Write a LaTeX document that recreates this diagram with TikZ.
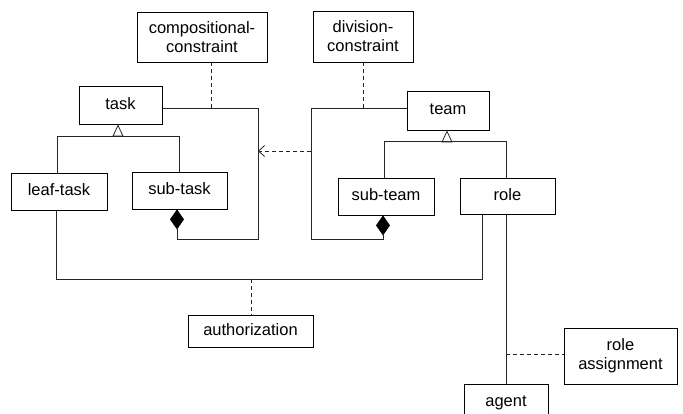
\documentclass[tikz,border=0pt]{standalone}
\usepackage{fontspec}
\setmainfont{Liberation Sans}
\usetikzlibrary{arrows.meta}
\begin{document}
\begin{tikzpicture}[x=1pt,y=-1pt,
  boxbase/.style={draw=black, line width=0.8pt, inner sep=0pt, align=center,
    font=\fontsize{16.5}{19}\selectfont},
  box/.style={boxbase, text height=12pt, text depth=3.5pt},
  box2/.style={boxbase},
  conn/.style={draw=black!85, line width=0.8pt},
  dsh/.style={conn, dash pattern=on 4pt off 3pt},
  gen/.style={conn, -{Triangle[open, length=12pt, width=11pt]}},
  comp/.style={conn, {Diamond[length=20pt, width=14pt, color=black, fill=black]}-},
  dep/.style={dsh, -{Straight Barb[length=6pt, width=11pt]}}
]
\useasboundingbox (0,0) rectangle (683,414);

% boxes
\node[box2, minimum width=130pt, minimum height=50pt] (cc) at (202,37) {compositional-\\constraint};
\node[box2, minimum width=100pt, minimum height=51pt] (dc) at (363,36.5) {division-\\constraint};
\node[box, minimum width=83pt, minimum height=38pt] (task) at (120.5,105) {task};
\node[box, minimum width=82pt, minimum height=39pt] (team) at (448,110.5) {team};
\node[box, minimum width=96pt, minimum height=37pt] (leaf) at (59,191.5) {leaf-task};
\node[box, minimum width=95pt, minimum height=37pt] (subtask) at (179.5,190.5) {sub-task};
\node[box, minimum width=96pt, minimum height=37pt] (subteam) at (386,196.5) {sub-team};
\node[box, minimum width=95pt, minimum height=36pt] (role) at (507.5,196) {role};
\node[box, minimum width=125pt, minimum height=32pt] (auth) at (250.5,331) {authorization};
\node[box2, minimum width=113pt, minimum height=56pt] (ra) at (620.5,356) {role\\assignment};
\node[box, minimum width=84pt, minimum height=36pt] (agent) at (506,402) {agent};

% helper coordinates
\coordinate (gT) at (118,136);
\coordinate (gM) at (447,141);
\coordinate (tR) at (258,108);
\coordinate (tB) at (258,239);
\coordinate (mL) at (311,108);
\coordinate (mB) at (311,239);
\coordinate (aL) at (56,279);
\coordinate (aR) at (482,279);
\coordinate (ccJ) at (211,108);
\coordinate (dcJ) at (363,108);
\coordinate (auJ) at (251,279);
\coordinate (raJ) at (506,354);
\coordinate (dpS) at (311,151);
\coordinate (dpE) at (258,151);

% generalization task
\draw[conn] (leaf.north -| 57,0) -- (57,136) -- (179,136) -- (subtask.north -| 179,0);
\draw[gen] (gT) -- (gT |- task.south);
% generalization team
\draw[conn] (subteam.north -| 384,0) -- (384,141) -- (506,141) -- (role.north -| 506,0);
\draw[gen] (gM) -- (gM |- team.south);

% composition task
\draw[comp] (subtask.south -| 177,0) -- (177,239) -- (tB) -- (tR) -- (tR -| task.east);
% composition team
\draw[comp] (subteam.south -| 383,0) -- (383,239) -- (mB) -- (mL) -- (mL -| team.west);

% constraints
\draw[dsh] (cc.south -| ccJ) -- (ccJ);
\draw[dsh] (dc.south -| dcJ) -- (dcJ);

% dependency
\draw[dep] (dpS) -- (dpE);

% authorization
\draw[conn] (leaf.south -| aL) -- (aL) -- (aR) -- (role.south -| aR);
\draw[dsh] (auJ) -- (auth.north -| auJ);

% role - agent
\draw[conn] (role.south -| 506,0) -- (agent.north -| 506,0);
\draw[dsh] (raJ) -- (raJ -| ra.west);
\end{tikzpicture}
\end{document}
